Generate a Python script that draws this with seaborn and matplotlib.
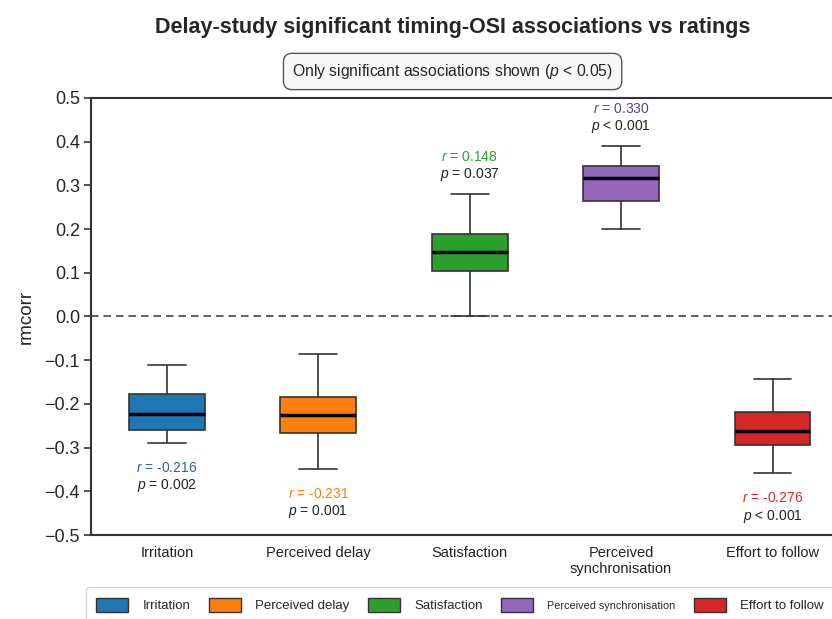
# Delay-study rmcorr boxplots with significance labels

import numpy as np
import pandas as pd
import seaborn as sns
import matplotlib.pyplot as plt
from matplotlib.patches import Patch

# Categories and their colours
categories = ["Irritation", "Perceived delay", "Satisfaction",
              "Perceived synchronisation", "Effort to follow"]
tick_labels = ["Irritation", "Perceived delay", "Satisfaction",
               "Perceived\nsynchronisation", "Effort to follow"]
box_colors = ["#1f77b4", "#ff7f0e", "#2ca02c", "#9467bd", "#d62728"]
r_colors = ["#2f5fa8", "#ff7f0e", "#2ca02c", "#5e3f93", "#d62728"]

# Box statistics: whisker low, Q1, median, Q3, whisker high
whisker_lo = [-0.289, -0.348, 0.000, 0.200, -0.359]
q1 = [-0.259, -0.266, 0.105, 0.264, -0.295]
median = [-0.222, -0.226, 0.147, 0.318, -0.262]
q3 = [-0.178, -0.185, 0.188, 0.344, -0.219]
whisker_hi = [-0.110, -0.086, 0.280, 0.390, -0.143]

# Annotation texts
r_values = ["-0.216", "-0.231", "0.148", "0.330", "-0.276"]
p_texts = ["= 0.002", "= 0.001", "= 0.037", "< 0.001", "< 0.001"]

y_ticks = [-0.5, -0.4, -0.3, -0.2, -0.1, 0.0, 0.1, 0.2, 0.3, 0.4, 0.5]


def build_frame():
    rows = []
    for i, cat in enumerate(categories):
        for v in (whisker_lo[i], q1[i], median[i], q3[i], whisker_hi[i]):
            rows.append({"category": cat, "rmcorr": v})
    return pd.DataFrame(rows)


def main():
    sns.set_style("white")
    plt.rcParams["font.family"] = ["Liberation Sans", "DejaVu Sans"]
    plt.rcParams["mathtext.fontset"] = "custom"
    plt.rcParams["mathtext.it"] = "Liberation Sans:italic"
    plt.rcParams["mathtext.rm"] = "Liberation Sans"

    df = build_frame()

    fig = plt.figure(figsize=(8.32, 6.19), dpi=100)
    ax = fig.add_axes([0.1095, 0.1357, 0.91, 0.706])

    sns.boxplot(data=df, x="category", y="rmcorr", hue="category",
                order=categories, hue_order=categories, palette=box_colors,
                whis=(0, 100), width=0.5, legend=False, ax=ax,
                linecolor="#333333", linewidth=1.2, saturation=1,
                medianprops={"color": "black", "linewidth": 2.5})

    ax.axhline(0, color="#444444", linewidth=1.2, linestyle=(0, (4.5, 3)),
               zorder=0.5)

    # significance labels
    for i in range(len(categories)):
        if median[i] > 0:
            y0, r_off, p_off = whisker_hi[i], 27, 14
        else:
            y0, r_off, p_off = whisker_lo[i], -18, -31
        ax.annotate(f"$r$ = {r_values[i]}", xy=(i, y0), xytext=(0, r_off),
                    textcoords="offset points", ha="center", va="center",
                    fontsize=10, color=r_colors[i])
        ax.annotate(f"$p$ {p_texts[i]}", xy=(i, y0), xytext=(0, p_off),
                    textcoords="offset points", ha="center", va="center",
                    fontsize=10, color="#222222")

    ax.set_ylim(-0.5, 0.5)
    ax.set_xlim(-0.5, 4.5)
    ax.set_yticks(y_ticks)
    ax.set_yticklabels([f"{t:.1f}".replace("-", "\u2212") for t in y_ticks])
    ax.set_xticks(range(len(categories)))
    ax.set_xticklabels(tick_labels)
    ax.tick_params(axis="y", labelsize=13, length=5, width=1.2,
                   color="#333333", left=True, pad=3)
    ax.tick_params(axis="x", labelsize=10.5, length=0, pad=8,
                   labelcolor="#222222")
    ax.set_xlabel("")
    ax.set_ylabel("rmcorr", fontsize=13.5, labelpad=7)
    for side in ("left", "top", "bottom", "right"):
        ax.spines[side].set_color("#333333")
        ax.spines[side].set_linewidth(1.5)

    fig.text(0.544, 0.955, "Delay-study significant timing-OSI associations vs ratings",
             ha="center", va="center", fontsize=15.5, fontweight="bold")
    fig.text(0.544, 0.8845, "Only significant associations shown ($p$ < 0.05)",
             ha="center", va="center", fontsize=11.3,
             bbox=dict(boxstyle="round,pad=0.55", facecolor="#f8f8f8",
                       edgecolor="#555555", linewidth=1))

    handles = [Patch(facecolor=c, edgecolor="#333333", linewidth=1)
               for c in box_colors]
    leg = fig.legend(handles, categories, loc="upper center",
                     bbox_to_anchor=(0.553, 0.0517), borderaxespad=0,
                     ncol=5, fontsize=9.5, frameon=True, fancybox=True,
                     handlelength=2.4, handleheight=1.3, handletextpad=1.1,
                     columnspacing=1.4, borderpad=0.8, edgecolor="#cccccc")
    leg.get_texts()[3].set_fontsize(7.8)

    fig.savefig("out.png", dpi=100, facecolor="white")


if __name__ == "__main__":
    main()
